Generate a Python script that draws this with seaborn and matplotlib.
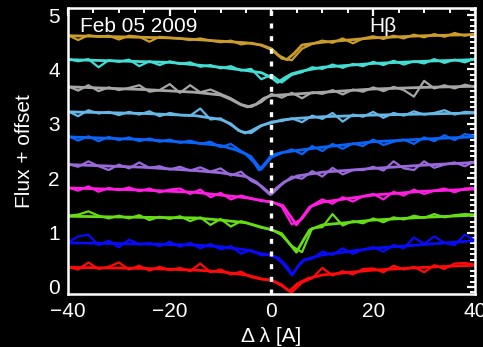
import numpy as np
import pandas as pd
import matplotlib
matplotlib.use("Agg")
import matplotlib.pyplot as plt
import seaborn as sns
from matplotlib.ticker import MultipleLocator

# ---------------- data ----------------
names = ["s1", "s2", "s3", "s4", "s5", "s6", "s7", "s8", "s9", "s10"]
colors = ["#C99C2C", "#44DDD4", "#A6A6A6", "#66B6E6", "#0A64F8",
          "#9A6ADC", "#FF1EE0", "#66DD14", "#0A0AFA", "#FF0A0A"]

x_obs = list(range(-40, 41, 2))

obs_s1 = [4.63, 4.54, 4.63, 4.60, 4.62, 4.55, 4.62, 4.60, 4.51, 4.60, 4.58, 4.57, 4.54, 4.57, 4.53,
          4.50, 4.53, 4.46, 4.49, 4.44, 4.36, 4.20, 4.17, 4.38, 4.47, 4.53, 4.49, 4.57, 4.48, 4.57,
          4.61, 4.56, 4.62, 4.57, 4.64, 4.59, 4.65, 4.60, 4.67, 4.62, 4.66]
obs_s2 = [4.19, 4.15, 4.19, 4.04, 4.17, 4.14, 4.18, 4.06, 4.15, 4.08, 4.15, 4.10, 4.13, 4.05, 4.08,
          4.02, 4.06, 3.98, 4.01, 3.82, 3.90, 3.76, 3.90, 3.95, 4.04, 4.01, 4.09, 4.03, 4.10, 4.06,
          4.14, 4.08, 4.16, 4.09, 4.15, 4.11, 4.19, 4.12, 4.18, 4.13, 4.20]
obs_s3 = [3.69, 3.61, 3.71, 3.60, 3.67, 3.62, 3.66, 3.71, 3.59, 3.62, 3.73, 3.57, 3.71, 3.58, 3.63,
          3.55, 3.47, 3.36, 3.31, 3.40, 3.55, 3.48, 3.57, 3.47, 3.58, 3.55, 3.62, 3.54, 3.63, 3.59,
          3.67, 3.60, 3.68, 3.62, 3.50, 3.79, 3.65, 3.71, 3.65, 3.72, 3.68]
obs_s4 = [3.23, 3.14, 3.25, 3.19, 3.22, 3.16, 3.22, 3.17, 3.23, 3.14, 3.20, 3.16, 3.15, 3.28, 3.08,
          3.10, 2.98, 2.86, 2.83, 2.96, 3.04, 3.05, 3.10, 3.03, 3.15, 3.09, 3.20, 3.04, 3.17, 3.13,
          3.22, 3.11, 3.20, 3.15, 3.23, 3.17, 3.20, 3.25, 3.17, 3.22, 3.21]
obs_s5 = [2.78, 2.69, 2.77, 2.68, 2.76, 2.70, 2.75, 2.68, 2.73, 2.67, 2.71, 2.65, 2.69, 2.63, 2.67,
          2.57, 2.63, 2.50, 2.40, 2.16, 2.38, 2.46, 2.53, 2.44, 2.59, 2.50, 2.63, 2.54, 2.64, 2.59,
          2.71, 2.61, 2.67, 2.71, 2.63, 2.75, 2.68, 2.79, 2.70, 2.81, 2.78]
obs_s6 = [2.26, 2.21, 2.31, 2.22, 2.15, 2.25, 2.18, 2.29, 2.19, 2.22, 2.16, 2.21, 2.14, 2.20, 2.12,
          2.18, 2.05, 2.12, 1.95, 1.86, 1.70, 1.88, 2.03, 1.99, 2.13, 2.03, 2.19, 2.07, 2.15, 2.15,
          2.21, 2.14, 2.31, 2.18, 2.15, 2.31, 2.19, 2.25, 2.29, 2.22, 2.31]
obs_s7 = [1.83, 1.77, 1.85, 1.75, 1.82, 1.78, 1.83, 1.76, 1.81, 1.74, 1.79, 1.81, 1.71, 1.79, 1.65,
          1.73, 1.61, 1.68, 1.63, 1.58, 1.57, 1.48, 1.15, 1.25, 1.50, 1.61, 1.53, 1.65, 1.57, 1.67,
          1.71, 1.61, 1.75, 1.68, 1.79, 1.71, 1.77, 1.81, 1.74, 1.81, 1.82]
obs_s8 = [1.31, 1.33, 1.39, 1.31, 1.26, 1.31, 1.26, 1.32, 1.23, 1.29, 1.25, 1.30, 1.21, 1.28, 1.14,
          1.25, 1.11, 1.21, 1.15, 1.09, 1.06, 0.95, 0.75, 0.64, 1.08, 1.10, 1.34, 1.13, 1.21, 1.17,
          1.26, 1.19, 1.28, 1.24, 1.31, 1.27, 1.34, 1.28, 1.32, 1.34, 1.33]
obs_s9 = [0.82, 0.93, 0.96, 0.77, 0.85, 0.73, 0.87, 0.78, 0.81, 0.75, 0.83, 0.74, 0.81, 0.71, 0.79,
          0.69, 0.75, 0.61, 0.68, 0.58, 0.60, 0.45, 0.22, 0.48, 0.52, 0.65, 0.59, 0.71, 0.61, 0.69,
          0.73, 0.65, 0.77, 0.71, 0.91, 0.79, 0.93, 0.81, 0.77, 0.96, 0.86]
obs_s10 = [0.37, 0.32, 0.45, 0.33, 0.37, 0.45, 0.32, 0.39, 0.30, 0.37, 0.31, 0.35, 0.29, 0.43, 0.27,
           0.32, 0.23, 0.28, 0.18, 0.14, 0.13, 0.02, -0.10, 0.08, 0.16, 0.35, 0.21, 0.29, 0.23, 0.33,
           0.34, 0.27, 0.39, 0.32, 0.37, 0.27, 0.40, 0.33, 0.43, 0.44, 0.41]

# smooth fits (x, y)
fit_x_s1 = [-40, -20, -10, -5, -2, 0, 1.5, 3, 4.5, 6, 10, 20, 30, 40]
fit_y_s1 = [4.62, 4.58, 4.52, 4.49, 4.45, 4.38, 4.25, 4.18, 4.30, 4.45, 4.50, 4.58, 4.62, 4.64]
fit_x_s2 = [-40, -20, -10, -5, -2, 0, 1.2, 2.5, 4, 6, 10, 20, 30, 40]
fit_y_s2 = [4.18, 4.13, 4.04, 3.98, 3.94, 3.85, 3.76, 3.84, 3.92, 3.97, 4.04, 4.11, 4.15, 4.18]
fit_x_s3 = [-40, -25, -15, -10, -8, -6, -4.7, -3, -1.5, 0, 5, 10, 20, 30, 40]
fit_y_s3 = [3.68, 3.63, 3.58, 3.53, 3.45, 3.35, 3.31, 3.36, 3.47, 3.52, 3.55, 3.58, 3.64, 3.67, 3.69]
fit_x_s4 = [-40, -25, -15, -10, -8, -6.5, -5.2, -4, -2, 0, 2, 5, 10, 20, 30, 40]
fit_y_s4 = [3.22, 3.19, 3.15, 3.08, 3.00, 2.88, 2.83, 2.87, 2.97, 3.02, 3.07, 3.10, 3.13, 3.16, 3.18, 3.20]
fit_x_s5 = [-40, -25, -15, -10, -7, -5, -3.5, -2.4, -1.2, 0, 2, 5, 10, 20, 30, 40]
fit_y_s5 = [2.76, 2.71, 2.65, 2.60, 2.52, 2.44, 2.30, 2.15, 2.28, 2.42, 2.47, 2.51, 2.57, 2.67, 2.72, 2.76]
fit_x_s6 = [-40, -25, -15, -10, -5, -3, -1.5, -0.3, 1, 2.5, 5, 10, 20, 30, 40]
fit_y_s6 = [2.25, 2.20, 2.14, 2.10, 2.03, 1.93, 1.80, 1.70, 1.82, 1.93, 2.04, 2.11, 2.18, 2.24, 2.29]
fit_x_s7 = [-40, -25, -15, -10, -5, 0, 2.2, 3.5, 4.9, 6.2, 7.5, 10, 20, 30, 40]
fit_y_s7 = [1.82, 1.78, 1.74, 1.69, 1.64, 1.56, 1.50, 1.33, 1.14, 1.30, 1.47, 1.56, 1.69, 1.76, 1.80]
fit_x_s8 = [-40, -25, -15, -10, -5, -2, 0, 2, 3.5, 4.9, 6.2, 7.5, 10, 20, 30, 40]
fit_y_s8 = [1.30, 1.28, 1.27, 1.23, 1.18, 1.10, 1.05, 0.98, 0.80, 0.64, 0.85, 1.05, 1.14, 1.23, 1.28, 1.32]
fit_x_s9 = [-40, -25, -15, -10, -5, -2, 0, 1.5, 3, 4.1, 5.2, 6.5, 10, 20, 30, 40]
fit_y_s9 = [0.81, 0.79, 0.77, 0.74, 0.68, 0.61, 0.58, 0.52, 0.38, 0.22, 0.38, 0.50, 0.59, 0.71, 0.78, 0.85]
fit_x_s10 = [-40, -25, -15, -10, -5, -2, 0, 2, 3.5, 5, 7, 10, 20, 30, 40]
fit_y_s10 = [0.36, 0.34, 0.31, 0.28, 0.22, 0.15, 0.12, 0.04, -0.08, 0.05, 0.15, 0.22, 0.31, 0.36, 0.40]

x_ticks = [-40, -20, 0, 20, 40]
y_ticks = [0, 1, 2, 3, 4, 5]

obs_all = [obs_s1, obs_s2, obs_s3, obs_s4, obs_s5, obs_s6, obs_s7, obs_s8, obs_s9, obs_s10]
fit_x_all = [fit_x_s1, fit_x_s2, fit_x_s3, fit_x_s4, fit_x_s5, fit_x_s6, fit_x_s7, fit_x_s8, fit_x_s9, fit_x_s10]
fit_y_all = [fit_y_s1, fit_y_s2, fit_y_s3, fit_y_s4, fit_y_s5, fit_y_s6, fit_y_s7, fit_y_s8, fit_y_s9, fit_y_s10]

obs_df = pd.concat([pd.DataFrame({"x": x_obs, "flux": v, "spec": n}) for n, v in zip(names, obs_all)],
                   ignore_index=True)
fit_df = pd.concat([pd.DataFrame({"x": fx, "flux": fy, "spec": n})
                    for n, fx, fy in zip(names, fit_x_all, fit_y_all)], ignore_index=True)

# ---------------- plot ----------------
sns.set_style("dark")
plt.rcParams["font.family"] = ["Liberation Sans", "DejaVu Sans"]

fig = plt.figure(figsize=(4.83, 3.47), dpi=100, facecolor="black")
ax = fig.add_axes([0.1408, 0.1527, 0.8426, 0.8243])
ax.set_facecolor("black")

pal = dict(zip(names, colors))
sns.lineplot(data=obs_df, x="x", y="flux", hue="spec", palette=pal, estimator=None, sort=False,
             legend=False, linewidth=1.6, ax=ax)
sns.lineplot(data=fit_df, x="x", y="flux", hue="spec", palette=pal, estimator=None, sort=False,
             legend=False, linewidth=2.0, ax=ax)

ax.axvline(0, color="white", linewidth=2.4, linestyle=(0, (1.5, 2.3)), zorder=5)

ax.set_xlim(-40, 40)
ax.set_ylim(-0.13, 5.13)
ax.set_xticks(x_ticks)
ax.set_xticklabels(["\u221240", "\u221220", "0", "20", "40"])
ax.set_yticks(y_ticks)
ax.xaxis.set_minor_locator(MultipleLocator(5))
ax.yaxis.set_minor_locator(MultipleLocator(0.1))
ax.tick_params(which="both", direction="in", colors="white", top=True, right=True,
               labelcolor="white", labelsize=15)
ax.tick_params(which="major", length=6, width=1.6, pad=6)
ax.tick_params(which="minor", length=3.5, width=1.4)
ax.grid(False)
for s in ax.spines.values():
    s.set_visible(True)
    s.set_color("white")
    s.set_linewidth(1.8)

ax.set_xlabel("\u0394 \u03bb [A]", color="white", fontsize=15, labelpad=4)
ax.set_ylabel("Flux + offset", color="white", fontsize=15, labelpad=10)

ax.text(0.03, 0.97, "Feb 05 2009", transform=ax.transAxes, color="white", fontsize=15,
        ha="left", va="top")
ax.text(0.74, 0.97, "H\u03b2", transform=ax.transAxes, color="white", fontsize=15,
        ha="left", va="top")

fig.savefig("out.png", dpi=100, facecolor="black")
